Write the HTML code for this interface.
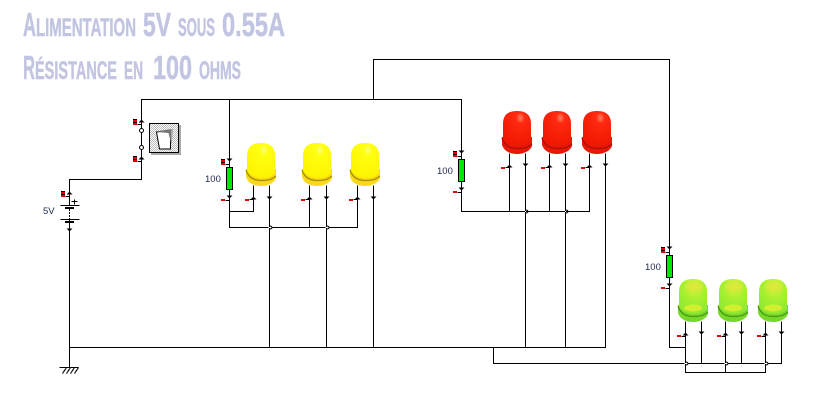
<!DOCTYPE html>
<html><head><meta charset="utf-8"><style>
html,body{margin:0;padding:0;background:#fff;width:822px;height:403px;overflow:hidden}
svg{display:block}
.t{font-family:"Liberation Sans Narrow","Liberation Sans",sans-serif;font-weight:bold;fill:#c2c5e2;stroke:#c2c5e2;stroke-width:.5px}
.l{font-family:"Liberation Sans",sans-serif;font-size:9.5px;fill:#1c2a50}
</style></head><body>
<svg width="822" height="403" viewBox="0 0 822 403" xmlns="http://www.w3.org/2000/svg">
<defs>
<pattern id="chk" width="2" height="2" patternUnits="userSpaceOnUse"><rect width="2" height="2" fill="#fff"/><rect width="1" height="1" fill="#bbb"/><rect x="1" y="1" width="1" height="1" fill="#bbb"/></pattern>
<radialGradient id="gy" cx=".6" cy=".2" r=".8"><stop offset="0" stop-color="#ffff80"/><stop offset=".2" stop-color="#ffff10"/><stop offset="1" stop-color="#fdf400"/></radialGradient>
<radialGradient id="gr" cx=".62" cy=".2" r=".8"><stop offset="0" stop-color="#ff8060"/><stop offset=".2" stop-color="#ff2a10"/><stop offset="1" stop-color="#f01800"/></radialGradient>
<radialGradient id="gg" cx=".55" cy=".2" r=".8"><stop offset="0" stop-color="#e0f040"/><stop offset=".5" stop-color="#a6f030"/><stop offset="1" stop-color="#90e830"/></radialGradient>
<g id="ly"><path d="M0 26V34C2 40 8 43 15 43S28 40 30 35V26Z" fill="#f8d818"/><path d="M1 28V13C1 4 6 0 15 0S29 4 29 13V30C24 37 6 37 1 28Z" fill="url(#gy)"/><path d="M0 27C2 33 6 37.500 15 37.500S26 36 30 33" fill="none" stroke="#a89000" stroke-width="1.300"/></g>
<g id="lr"><path d="M0 26V34C2 40 8 43 15 43S28 40 30 35V26Z" fill="#e81808"/><path d="M1 28V13C1 4 6 0 15 0S29 4 29 13V30C24 37 6 37 1 28Z" fill="url(#gr)"/><path d="M0 27C2 33 6 37.500 15 37.500S26 36 30 33" fill="none" stroke="#a81008" stroke-width="1.300"/></g>
<g id="lg"><path d="M0 26V34C2 40 8 43 15 43S28 40 30 35V26Z" fill="#78d828"/><path d="M1 28V13C1 4 6 0 15 0S29 4 29 13V30C24 37 6 37 1 28Z" fill="url(#gg)"/><ellipse cx="16" cy="8" rx="9" ry="5" fill="#d8e838" opacity=".7"/><ellipse cx="15" cy="29" rx="9" ry="3.500" fill="#e0f030" opacity=".8"/><path d="M0 27C2 33 6 37.500 15 37.500S26 36 30 33" fill="none" stroke="#4a9a18" stroke-width="1.300"/></g>
<g id="up"><path d="M-3 1.500H3L0 -1.500Z" fill="#000"/></g>
<g id="dn"><path d="M-3 -1.500H3L0 1.500Z" fill="#000"/></g>
</defs>

<text class="t" font-size="33" x="23" y="36" textLength="13" lengthAdjust="spacingAndGlyphs">A</text>
<text class="t" font-size="25" x="36" y="36" textLength="100" lengthAdjust="spacingAndGlyphs">LIMENTATION</text>
<text class="t" font-size="33" x="143" y="36" textLength="28" lengthAdjust="spacingAndGlyphs">5V</text>
<text class="t" font-size="25" x="178" y="36" textLength="37" lengthAdjust="spacingAndGlyphs">SOUS</text>
<text class="t" font-size="33" x="222" y="36" textLength="63" lengthAdjust="spacingAndGlyphs">0.55A</text>
<text class="t" font-size="33" x="23" y="79" textLength="12" lengthAdjust="spacingAndGlyphs">R</text>
<text class="t" font-size="25" x="35" y="79" textLength="82" lengthAdjust="spacingAndGlyphs">ÉSISTANCE</text>
<text class="t" font-size="25" x="124" y="79" textLength="19" lengthAdjust="spacingAndGlyphs">EN</text>
<text class="t" font-size="33" x="153" y="79" textLength="39" lengthAdjust="spacingAndGlyphs">100</text>
<text class="t" font-size="25" x="199" y="79" textLength="42" lengthAdjust="spacingAndGlyphs">OHMS</text>

<g fill="none" stroke="#000" stroke-width="1" shape-rendering="crispEdges" transform="translate(.5 .5)">
<path d="M69 367V179H141V99H461V211H589V153M373 99V59H669V347H685"/>
<path d="M229 99V227H268M271 227H325M328 227H357V185M229 211H253V185M309 185V227"/>
<path d="M269 185V347M326 185V347M373 185V347M69 347H605V153"/>
<path d="M509 153V211M549 153V211"/>
<path d="M525 153V347M565 153V347"/>
<path d="M493 347V363H684M687 363H724M727 363H764M767 363H781V321M701 321V363M741 321V363"/>
<path d="M685 321V372H765V321M725 321V372"/>
<path d="M137 124H141M137 161H141M65 196H69M225 164H229M225 200H229M457 156H461M457 192H461M665 252H669M665 288H669"/>
<path d="M249 199H253M305 199H309M353 199H357M505 167H509M545 167H549M585 167H589M681 336H685M721 336H725M761 336H765"/>
<path d="M59 367H78M62 373L66 367M66 373L70 367M70 373L74 367M74 373L78 367"/>
<path d="M60 205H79M60 219H79M74 199V204M71 201H77"/>
</g>
<g fill="none" stroke="#000" stroke-width="1">
<path d="M269.500 226C271.500 226 272 227 272 227.500C272 228 271.500 229 269.500 229M326.500 226C328.500 226 329 227 329 227.500C329 228 328.500 229 326.500 229"/>
<path d="M525.500 210C527.500 210 528 211 528 211.500C528 212 527.500 213 525.500 213M565.500 210C567.500 210 568 211 568 211.500C568 212 567.500 213 565.500 213"/>
<path d="M685.500 362C687.500 362 688 363 688 363.500C688 364 687.500 365 685.500 365M725.500 362C727.500 362 728 363 728 363.500C728 364 727.500 365 725.500 365M765.500 362C767.500 362 768 363 768 363.500C768 364 767.500 365 765.500 365"/>
</g>
<rect x="269" y="227" width="1" height="1" fill="#fff"/><rect x="326" y="227" width="1" height="1" fill="#fff"/>
<rect x="525" y="211" width="1" height="1" fill="#fff"/><rect x="565" y="211" width="1" height="1" fill="#fff"/>
<rect x="685" y="363" width="1" height="1" fill="#fff"/><rect x="725" y="363" width="1" height="1" fill="#fff"/><rect x="765" y="363" width="1" height="1" fill="#fff"/>

<g shape-rendering="crispEdges">
<g fill="#e00000">
<rect x="133" y="119" width="4" height="6"/><rect x="133" y="156" width="4" height="6"/><rect x="61" y="191" width="4" height="6"/>
<rect x="221" y="159" width="4" height="6"/><rect x="453" y="151" width="4" height="6"/><rect x="661" y="247" width="4" height="6"/>
<rect x="221" y="199" width="4" height="2"/><rect x="453" y="191" width="4" height="2"/><rect x="661" y="287" width="4" height="2"/>
<rect x="245" y="199" width="4" height="2"/><rect x="301" y="199" width="4" height="2"/><rect x="349" y="199" width="4" height="2"/>
<rect x="501" y="167" width="4" height="2"/><rect x="541" y="167" width="4" height="2"/><rect x="581" y="167" width="4" height="2"/>
<rect x="677" y="335" width="4" height="2"/><rect x="717" y="335" width="4" height="2"/><rect x="757" y="335" width="4" height="2"/>
</g>
<g fill="#000">
<rect x="133" y="119" width="4" height="1"/><rect x="133" y="122" width="4" height="1"/>
<rect x="133" y="156" width="4" height="1"/><rect x="133" y="159" width="4" height="1"/>
<rect x="61" y="191" width="4" height="1"/><rect x="61" y="194" width="4" height="1"/>
<rect x="221" y="159" width="4" height="1"/><rect x="221" y="162" width="4" height="1"/>
<rect x="453" y="151" width="4" height="1"/><rect x="453" y="154" width="4" height="1"/>
<rect x="661" y="247" width="4" height="1"/><rect x="661" y="250" width="4" height="1"/>
</g>
</g>
<use href="#up" x="141.500" y="121"/><use href="#up" x="141.500" y="158"/>
<use href="#up" x="69.500" y="193"/><use href="#dn" x="69.500" y="230"/>
<use href="#dn" x="229.500" y="160"/><use href="#dn" x="229.500" y="197"/>
<use href="#dn" x="461.500" y="152"/><use href="#dn" x="461.500" y="189"/>
<use href="#dn" x="669.500" y="248"/><use href="#dn" x="669.500" y="285"/>
<use href="#up" x="253.500" y="198"/><use href="#dn" x="269.500" y="198"/><use href="#up" x="309.500" y="198"/><use href="#dn" x="326.500" y="198"/><use href="#up" x="357.500" y="198"/><use href="#dn" x="373.500" y="198"/>
<use href="#up" x="509.500" y="166"/><use href="#dn" x="525.500" y="165"/><use href="#up" x="549.500" y="166"/><use href="#dn" x="565.500" y="165"/><use href="#up" x="589.500" y="166"/><use href="#dn" x="605.500" y="165"/>
<use href="#up" x="685.500" y="334"/><use href="#dn" x="701.500" y="333"/><use href="#up" x="725.500" y="334"/><use href="#dn" x="741.500" y="333"/><use href="#up" x="765.500" y="334"/><use href="#dn" x="781.500" y="333"/>

<g shape-rendering="crispEdges">
<rect x="69" y="206" width="1" height="13" fill="#fff"/>
<path d="M69.500 209V219" stroke="#000" stroke-dasharray="2 1"/>
<rect x="65" y="207" width="9" height="2" fill="#000"/><rect x="65" y="221" width="9" height="2" fill="#000"/>
</g>
<rect x="141" y="131" width="1" height="16" fill="#000"/>
<circle cx="141.500" cy="130.500" r="2" fill="#fff" stroke="#000"/>
<circle cx="141.500" cy="147.500" r="2" fill="#fff" stroke="#000"/>
<rect x="151" y="125" width="30" height="30" fill="#aaa"/>
<rect x="149.500" y="123.500" width="29" height="29" fill="url(#chk)" stroke="#000" stroke-width="1"/>
<path d="M169 129H173L172 143H170Z" fill="#aaa"/>
<path d="M156.500 132L170.500 130L170.500 149H159.500Z" fill="#fff" stroke="#000"/>
<path d="M156.500 132L168 129.500H171V143L168.500 133Z" fill="#777"/>
<rect x="226.500" y="167.500" width="6" height="22" fill="#00e800" stroke="#000"/>
<rect x="458.500" y="159.500" width="6" height="22" fill="#00e800" stroke="#000"/>
<rect x="666.500" y="255.500" width="6" height="22" fill="#00e800" stroke="#000"/>
<use href="#ly" x="246" y="143"/><use href="#ly" x="302" y="143"/><use href="#ly" x="350" y="143"/>
<use href="#lr" x="502" y="111"/><use href="#lr" x="542" y="111"/><use href="#lr" x="582" y="111"/>
<use href="#lg" x="678" y="279"/><use href="#lg" x="718" y="279"/><use href="#lg" x="758" y="279"/>
<text class="l" x="205" y="182">100</text>
<text class="l" x="437" y="174">100</text>
<text class="l" x="645" y="270">100</text>
<text class="l" x="43" y="214">5V</text>
</svg>
</body></html>
